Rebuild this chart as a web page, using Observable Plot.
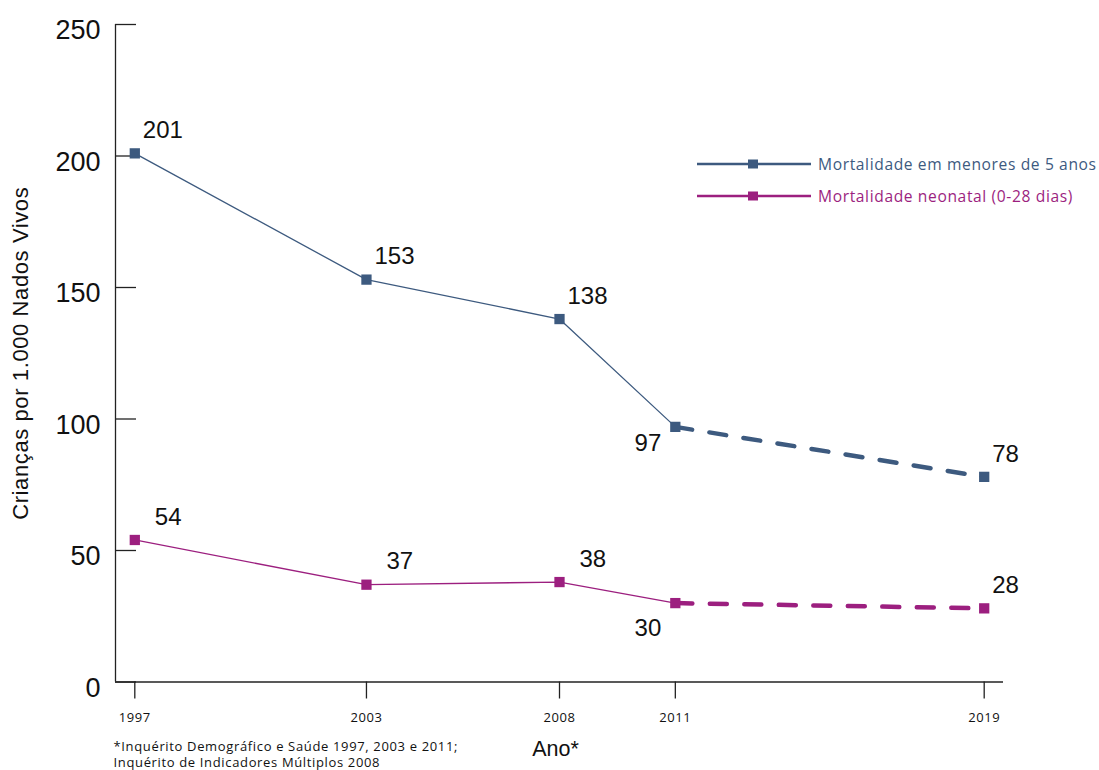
<!DOCTYPE html>
<html lang="pt">
<head>
<meta charset="utf-8">
<script src="https://cdn.jsdelivr.net/npm/d3@7"></script>
<script src="https://cdn.jsdelivr.net/npm/@observablehq/plot@0.6"></script>
<style>
  body { margin: 0; background: #fff; }
  #wrap { position: relative; width: 1099px; height: 770px; }
  .legend { position: absolute; left: 697px; top: 148px; font-family: "Open Sans", Lato, sans-serif; font-size: 15.6px; letter-spacing: 0.62px; }
  .legend .row { display: flex; align-items: center; height: 32px; white-space: nowrap; }
  .legend svg { margin-right: 7px; }
</style>
</head>
<body>
<div id="wrap"></div>
<script>
// Mortality per 1,000 live births, survey years
const years = [1997, 2003, 2008, 2011, 2019];
const under5 = [201, 153, 138, 97, 78];
const neonatal = [54, 37, 38, 30, 28];
const seriesNames = ["Mortalidade em menores de 5 anos", "Mortalidade neonatal (0-28 dias)"];
const seriesColors = ["#3d5a7f", "#9c1f7f"];
const yTicks = [0, 50, 100, 150, 200, 250];
const yTitle = "Crianças por 1.000 Nados Vivos";
const xTitle = "Ano*";
const footnote = "*Inquérito Demográfico e Saúde 1997, 2003 e 2011;\nInquérito de Indicadores Múltiplos 2008";
const lastSurvey = 2011; // values after this year are drawn dashed

const rows = [];
[under5, neonatal].forEach((vals, s) => {
  years.forEach((year, i) => rows.push({year, value: vals[i], series: seriesNames[s], idx: s}));
});
const solid = rows.filter(d => d.year <= lastSurvey);
const dashed = rows.filter(d => d.year >= lastSurvey);

const xDomain = [1996.5, 2019.5];
const numFont = "'Liberation Sans', Arial, sans-serif";
const softFont = "'Open Sans', Lato, sans-serif";

// value labels: above-right of each point, 2011 below-left
function valueLabels(filter, opts) {
  return Plot.text(rows.filter(filter), {
    x: "year", y: "value", text: d => String(d.value),
    fontSize: 24, fill: "#111", textAnchor: "start", ...opts
  });
}

const chart = Plot.plot({
  width: 1099,
  height: 770,
  marginLeft: 115,
  marginRight: 96,
  marginTop: 24,
  marginBottom: 88.5,
  style: {fontFamily: numFont, color: "#111", background: "#fff"},
  x: {domain: xDomain},
  y: {domain: [0, 250]},
  color: {domain: seriesNames, range: seriesColors},
  marks: [
    Plot.ruleX([xDomain[0]], {stroke: "#222", strokeWidth: 1.3}),
    Plot.ruleY([0], {stroke: "#222", strokeWidth: 1.3}),
    Plot.axisY(yTicks, {tickSize: -21, text: null, stroke: "#222", strokeWidth: 1.3, label: null}),
    Plot.axisY(yTicks, {tickSize: 0, tickPadding: 15, fontSize: 27, dy: 6, label: null, fill: "#111"}),
    Plot.axisX(years, {tickSize: 17, tickPadding: 14, fontSize: 13, fontFamily: softFont, tickFormat: d => String(d), stroke: "#222", strokeWidth: 1.3, label: null, fill: "#111"}),
    Plot.text([yTitle], {frameAnchor: "left", textAnchor: "middle", rotate: -90, dx: -95, fontSize: 22, fill: "#111"}),
    Plot.text([xTitle], {frameAnchor: "bottom", dx: -4, dy: 73.5, fontSize: 21.5, fill: "#111"}),
    Plot.text([footnote], {
      frameAnchor: "bottom-left", textAnchor: "start", lineAnchor: "top", dx: -2, dy: 57, fontSize: 13, lineHeight: 1.27, fontFamily: softFont, fill: "#111"
    }),
    Plot.line(solid, {x: "year", y: "value", z: "series", stroke: "series", strokeWidth: 1.3}),
    Plot.line(dashed, {x: "year", y: "value", z: "series", stroke: "series", strokeWidth: 4.5, strokeDasharray: "17,17.5"}),
    Plot.dot(rows, {x: "year", y: "value", fill: "series", symbol: "square", r: 5.8}),
    valueLabels(d => d.year !== lastSurvey && (d.idx === 0 || d.year === 2019), {dx: 8, dy: -23}),
    valueLabels(d => d.year !== lastSurvey && d.idx === 1 && d.year !== 2019, {dx: 20, dy: -23}),
    valueLabels(d => d.year === lastSurvey && d.idx === 0, {textAnchor: "end", dx: -14, dy: 16}),
    valueLabels(d => d.year === lastSurvey && d.idx === 1, {textAnchor: "end", dx: -14, dy: 25})
  ]
});

// wider tracking for the small sans texts and the axis title
const svg = d3.select(chart);
svg.selectAll('[aria-label="x-axis tick label"] text').style("letter-spacing", "0.6px");
svg.selectAll("text").filter(function () { return this.textContent === yTitle; }).style("letter-spacing", "0.6px");
svg.selectAll("text").filter(function () { return this.textContent.startsWith("*Inqu"); }).style("letter-spacing", "0.65px");

document.getElementById("wrap").appendChild(chart);

// legend
const legend = document.createElement("div");
legend.className = "legend";
seriesNames.forEach((name, i) => {
  const row = document.createElement("div");
  row.className = "row";
  row.innerHTML = `<svg width="114" height="12"><line x1="0" x2="114" y1="6" y2="6" stroke="${seriesColors[i]}" stroke-width="2.6"/><rect x="51" y="1.5" width="10" height="9" fill="${seriesColors[i]}"/></svg><span style="color:${seriesColors[i]}">${name}</span>`;
  legend.appendChild(row);
});
document.getElementById("wrap").appendChild(legend);
</script>
</body>
</html>
